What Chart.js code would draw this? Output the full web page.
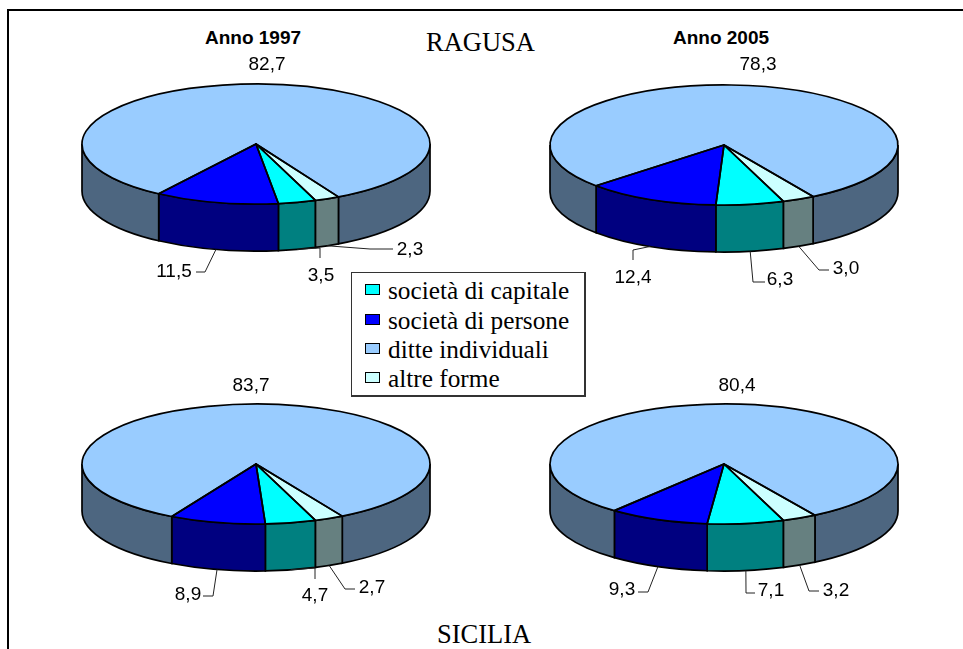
<!DOCTYPE html>
<html lang="it">
<head>
<meta charset="utf-8">
<title>RAGUSA - SICILIA</title>
<script src="https://cdn.jsdelivr.net/npm/chart.js@4"></script>
<style>
    html, body { margin: 0; padding: 0; background: #fff; }
    body { position: relative; width: 963px; height: 649px; overflow: hidden; }
    canvas { position: absolute; }
    .bordo { position: absolute; background: #000; }
    .testo { position: absolute; white-space: nowrap; line-height: 1; color: #000; }
    .titolo { font: bold 19px "Liberation Sans", Arial, sans-serif; transform: translateX(-50%); }
    .zona { font: 26.5px "Liberation Serif", "Times New Roman", serif; }
    #legenda { position: absolute; left: 351px; top: 272px; width: 232px; height: 122px; border: 1px solid #333; border-right-width: 2px; border-bottom-width: 2px; background: #fff; }
    .quadrato { position: absolute; left: 13px; width: 13px; height: 9px; border: 1.5px solid #000; }
    .voce { position: absolute; left: 36px; font: 25.3px "Liberation Serif", "Times New Roman", serif; white-space: nowrap; line-height: 30px; }
</style>
</head>
<body>
<div class="bordo" style="left:7px;top:9px;width:956px;height:2px"></div>
<div class="bordo" style="left:7px;top:9px;width:2px;height:640px"></div>
<div class="testo titolo" style="left:253px;top:27px">Anno 1997</div>
<div class="testo titolo" style="left:721px;top:27px">Anno 2005</div>
<div class="testo zona" style="left:426px;top:27px">RAGUSA</div>
<div class="testo zona" style="left:437px;top:619px">SICILIA</div>
<canvas id="ragusa1997"></canvas>
<canvas id="ragusa2005"></canvas>
<canvas id="sicilia1997"></canvas>
<canvas id="sicilia2005"></canvas>
<div id="legenda"></div>

<script>
const categorie = ["società di capitale", "società di persone", "ditte individuali", "altre forme"];

const ragusa1997 = [3.5, 11.5, 82.7, 2.3];
const ragusa2005 = [6.3, 12.4, 78.3, 3.0];
const sicilia1997 = [4.7, 8.9, 83.7, 2.7];
const sicilia2005 = [7.1, 9.3, 80.4, 3.2];

const coloriSopra = ["#00FFFF", "#0000FF", "#99CCFF", "#CCFFFF"];
const coloriLato = ["#008080", "#000080", "#4D6680", "#668080"];

// dimensioni della torta in prospettiva
const raggio = 174;
const schiacciamento = 0.345;
const spessore = 47;
const margine = 4;
const rotazione = 160;

// posizione delle etichette nella pagina: [x testo, y testo, ...punti della linea guida]
const etichetteR97 = [
    [321, 276, [320, 248], [320, 258]],
    [174, 272, [205, 272], [196, 272]],
    [267, 65],
    [410, 250, [370, 249], [393, 249]]
];
const etichetteR05 = [
    [780, 280, [753, 282], [765, 282]],
    [633, 278, [633, 250], [633, 260]],
    [758, 65],
    [846, 269, [819, 270], [829, 270]]
];
const etichetteS97 = [
    [315, 596, [315, 568], [315, 579]],
    [188, 595, [213, 596], [203, 596]],
    [251, 386],
    [372, 588, [345, 589], [355, 589]]
];
const etichetteS05 = [
    [771, 591, [746, 593], [755, 593]],
    [622, 590, [648, 592], [638, 592]],
    [737, 386],
    [836, 591, [809, 591], [819, 591]]
];

function geraEtichetta(valore) {
    return valore.toFixed(1).replace(".", ",");
}

// pareti laterali prima delle fette, contorni ed etichette dopo
const torta3d = {
    id: "torta3d",
    beforeDatasetsDraw(chart) {
        const ctx = chart.ctx;
        const archi = chart.getDatasetMeta(0).data;
        archi.forEach((arco, i) => {
            const { x, y, startAngle, endAngle, outerRadius } = arco.getProps(["x", "y", "startAngle", "endAngle", "outerRadius"], true);
            const ry = outerRadius * schiacciamento;
            [0, 2 * Math.PI].forEach((giro) => {
                const a0 = Math.max(startAngle, giro);
                const a1 = Math.min(endAngle, giro + Math.PI);
                if (a1 <= a0) return;
                ctx.beginPath();
                ctx.ellipse(x, y, outerRadius, ry, 0, a0, a1);
                ctx.ellipse(x, y + spessore, outerRadius, ry, 0, a1, a0, true);
                ctx.closePath();
                ctx.fillStyle = coloriLato[i];
                ctx.fill();
                ctx.lineWidth = 1.7;
                ctx.strokeStyle = "#000";
                ctx.stroke();
            });
        });
        ctx.save();
        ctx.translate(archi[0].x, archi[0].y);
        ctx.scale(1, schiacciamento);
        ctx.translate(-archi[0].x, -archi[0].y);
    },
    afterDatasetsDraw(chart, args, opzioni) {
        const ctx = chart.ctx;
        ctx.restore();
        const archi = chart.getDatasetMeta(0).data;
        const valori = chart.data.datasets[0].data;
        const dx = chart.canvas.offsetLeft;
        const dy = chart.canvas.offsetTop;
        archi.forEach((arco) => {
            const { x, y, startAngle, endAngle, outerRadius } = arco.getProps(["x", "y", "startAngle", "endAngle", "outerRadius"], true);
            ctx.beginPath();
            ctx.moveTo(x, y);
            ctx.ellipse(x, y, outerRadius, outerRadius * schiacciamento, 0, startAngle, endAngle);
            ctx.closePath();
            ctx.lineWidth = 1.7;
            ctx.lineJoin = "round";
            ctx.strokeStyle = "#000";
            ctx.stroke();
        });
        ctx.font = '19px "Liberation Sans", Arial, sans-serif';
        ctx.fillStyle = "#000";
        ctx.textAlign = "center";
        ctx.textBaseline = "middle";
        archi.forEach((arco, i) => {
            const { x, y, startAngle, endAngle, outerRadius } = arco.getProps(["x", "y", "startAngle", "endAngle", "outerRadius"], true);
            const [tx, ty, ...guida] = opzioni.etichette[i];
            if (guida.length) {
                const medio = (startAngle + endAngle) / 2;
                ctx.beginPath();
                ctx.moveTo(x + outerRadius * Math.cos(medio), y + outerRadius * schiacciamento * Math.sin(medio) + spessore);
                guida.forEach((p) => ctx.lineTo(p[0] - dx, p[1] - dy));
                ctx.lineWidth = 1;
                ctx.strokeStyle = "#222";
                ctx.stroke();
            }
            ctx.fillText(geraEtichetta(valori[i]), tx - dx, ty - dy);
        });
    }
};

function creaTorta(id, valori, etichette, cx, cy) {
    const lato = 2 * (raggio + margine);
    const canvas = document.getElementById(id);
    canvas.width = lato;
    canvas.height = lato;
    canvas.style.left = (cx - lato / 2) + "px";
    canvas.style.top = (cy - lato / 2) + "px";
    return new Chart(canvas, {
        type: "pie",
        data: {
            labels: categorie,
            datasets: [{
                data: valori,
                backgroundColor: coloriSopra,
                borderWidth: 0
            }]
        },
        options: {
            responsive: false,
            animation: false,
            rotation: rotazione,
            layout: { padding: margine },
            events: [],
            plugins: {
                legend: { display: false },
                tooltip: { enabled: false },
                torta3d: { etichette: etichette }
            }
        },
        plugins: [torta3d]
    });
}

creaTorta("ragusa1997", ragusa1997, etichetteR97, 256, 144);
creaTorta("ragusa2005", ragusa2005, etichetteR05, 724, 145);
creaTorta("sicilia1997", sicilia1997, etichetteS97, 256, 464);
creaTorta("sicilia2005", sicilia2005, etichetteS05, 724, 464);

const legenda = document.getElementById("legenda");
const righeLegenda = [10, 40, 69, 98];
categorie.forEach((nome, i) => {
    const quadrato = document.createElement("div");
    quadrato.className = "quadrato";
    quadrato.style.top = (righeLegenda[i] + 0.5) + "px";
    quadrato.style.background = coloriSopra[i];
    legenda.appendChild(quadrato);
    const voce = document.createElement("div");
    voce.className = "voce";
    voce.style.top = (righeLegenda[i] - 8) + "px";
    voce.textContent = nome;
    legenda.appendChild(voce);
});
</script>
</body>
</html>
